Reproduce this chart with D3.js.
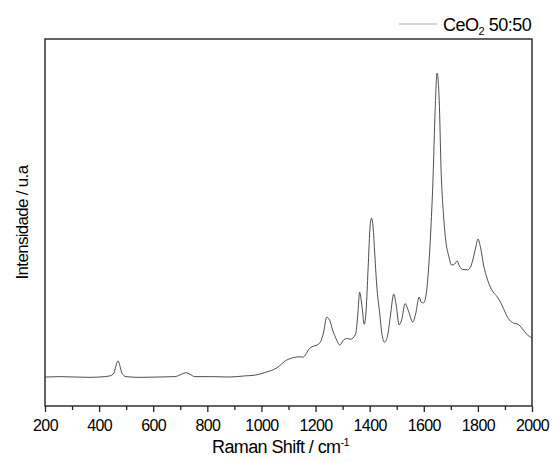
<!DOCTYPE html>
<html>
<head>
<meta charset="utf-8">
<script src="https://cdn.jsdelivr.net/npm/d3@7"></script>
<style>
  html, body { margin: 0; padding: 0; background: #fff; }
  svg text { font-family: "Liberation Sans", Arial, sans-serif; fill: #000; }
</style>
</head>
<body>
<svg id="chart" width="555" height="461"></svg>
<script>
// Raman spectrum, CeO2 50:50 sample (arbitrary intensity units)
const ramanShift = [
  200, 255, 311, 366, 403, 440, 455, 462, 470, 477, 484, 499, 551, 625, 680, 706, 721, 735, 754, 809,
  883, 938, 975, 1012, 1057, 1093, 1141, 1153, 1178, 1215, 1230, 1241, 1252, 1263, 1278, 1289, 1304, 1315, 1330, 1348,
  1356, 1363, 1371, 1380, 1387, 1394, 1402, 1407, 1413, 1418, 1426, 1437, 1446, 1455, 1466, 1477, 1489, 1498, 1509, 1518,
  1531, 1542, 1559, 1570, 1583, 1590, 1599, 1609, 1616, 1625, 1634, 1642, 1649, 1657, 1664, 1673, 1681, 1692, 1703, 1714,
  1723, 1732, 1745, 1762, 1773, 1784, 1793, 1800, 1810, 1821, 1836, 1856, 1872, 1887, 1902, 1917, 1932, 1948, 1965, 1980, 2000
];
const intensity = [
  79, 80, 79, 78, 79, 82, 90, 109, 123, 109, 90, 80, 78, 79, 80, 87, 91, 87, 80, 80,
  79, 82, 84, 91, 104, 125, 134, 133, 157, 171, 202, 242, 234, 207, 180, 166, 180, 184, 182, 196,
  248, 310, 275, 223, 262, 371, 493, 512, 485, 425, 330, 253, 193, 174, 191, 248, 305, 275, 221, 234,
  279, 262, 229, 251, 297, 283, 281, 305, 357, 466, 616, 807, 907, 834, 643, 520, 452, 409, 384, 387,
  395, 381, 372, 371, 379, 406, 436, 455, 431, 384, 343, 311, 297, 278, 253, 234, 226, 223, 210, 196, 185
];
const xTickValues = [200, 400, 600, 800, 1000, 1200, 1400, 1600, 1800, 2000];
const xMinorTicks = [300, 500, 700, 900, 1100, 1300, 1500, 1700, 1900];
const seriesName = "CeO";
const seriesSub = "2";
const seriesRest = " 50:50";

const svg = d3.select("#chart");
const margin = { left: 45, right: 23, top: 39, bottom: 55 };
const W = 555, H = 461;
const innerW = W - margin.left - margin.right;
const innerH = H - margin.top - margin.bottom;

const x = d3.scaleLinear().domain([200, 2000]).range([0, innerW]);
const y = d3.scaleLinear().domain([0, 1000]).range([innerH, 0]);

const g = svg.append("g").attr("transform", `translate(${margin.left},${margin.top})`);

// spectrum trace
const pts = ramanShift.map((v, i) => [v, intensity[i]]);
g.append("path")
  .datum(pts)
  .attr("fill", "none")
  .attr("stroke", "#3a3a3a")
  .attr("stroke-width", 0.9)
  .attr("d", d3.line().x(d => x(d[0])).y(d => y(d[1])).curve(d3.curveMonotoneX));

// frame
g.append("rect")
  .attr("x", 0).attr("y", 0)
  .attr("width", innerW).attr("height", innerH)
  .attr("fill", "none")
  .attr("stroke", "#222")
  .attr("stroke-width", 1.4);

// bottom axis: major labelled ticks and minor ticks
const xAxis = d3.axisBottom(x).tickValues(xTickValues).tickSize(6).tickPadding(8).tickFormat(d3.format("d"));
const ax = g.append("g").attr("transform", `translate(0,${innerH})`).call(xAxis);
ax.select(".domain").remove();
ax.selectAll(".tick line").attr("stroke", "#222").attr("stroke-width", 1.3);
ax.selectAll(".tick text")
  .attr("font-size", 16)
  .attr("letter-spacing", "-0.6px")
  .attr("fill", "#000");

const minor = d3.axisBottom(x).tickValues(xMinorTicks).tickSize(4).tickFormat("");
const mx = g.append("g").attr("transform", `translate(0,${innerH})`).call(minor);
mx.select(".domain").remove();
mx.selectAll(".tick line").attr("stroke", "#222").attr("stroke-width", 1.3);

// axis titles
const xt = svg.append("text")
  .attr("x", 212)
  .attr("y", 453)
  .attr("text-anchor", "start")
  .attr("font-size", 18)
  .attr("letter-spacing", "-0.6px");
xt.append("tspan").text("Raman Shift / cm");
xt.append("tspan").attr("font-size", 11).attr("dy", -7).text("-1");

svg.append("text")
  .attr("transform", `translate(28,${margin.top + innerH / 2}) rotate(-90)`)
  .attr("text-anchor", "middle")
  .attr("font-size", 17)
  .attr("letter-spacing", "-0.7px")
  .text("Intensidade / u.a");

// legend
svg.append("line")
  .attr("x1", 399).attr("x2", 437)
  .attr("y1", 24).attr("y2", 24)
  .attr("stroke", "#b0b0b0")
  .attr("stroke-width", 1.2);
const lt = svg.append("text")
  .attr("x", 443).attr("y", 31)
  .attr("font-size", 18)
  .attr("letter-spacing", "-0.5px");
lt.append("tspan").text(seriesName);
lt.append("tspan").attr("font-size", 11).attr("dy", 4).text(seriesSub);
lt.append("tspan").attr("dy", -4).text(seriesRest);
</script>
</body>
</html>
